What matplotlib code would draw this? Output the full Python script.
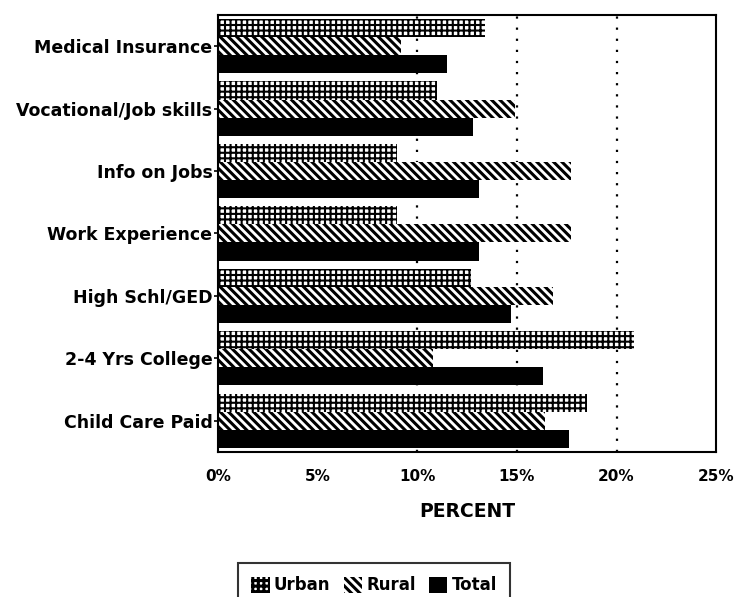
import numpy as np
import matplotlib.pyplot as plt

categories = ['Medical Insurance', 'Vocational/Job skills', 'Info on Jobs',
              'Work Experience', 'High Schl/GED', '2-4 Yrs College',
              'Child Care Paid']
urban = [13.4, 11.0, 9.0, 9.0, 12.7, 20.9, 18.5]
rural = [9.2, 14.9, 17.7, 17.7, 16.8, 10.8, 16.4]
total = [11.5, 12.8, 13.1, 13.1, 14.7, 16.3, 17.6]
xticks = [0, 5, 10, 15, 20, 25]

plt.rcParams['font.family'] = ['DejaVu Sans']
plt.rcParams['font.weight'] = 'bold'
plt.rcParams['hatch.linewidth'] = 2.2

fig = plt.figure(figsize=(7.48, 5.97), dpi=100)
ax = fig.add_axes([0.2914, 0.243, 0.666, 0.732])

# groups from top to bottom
y = np.arange(len(categories))
h = 0.29
b_urban = ax.barh(y - h, urban, height=h, color='white', edgecolor='black',
                  hatch='+++', linewidth=0, label='Urban')
ax.barh(y, rural, height=h, color='white', edgecolor='black',
        hatch='\\\\\\\\', linewidth=0, label='Rural')
ax.barh(y + h, total, height=h, color='black', edgecolor='black',
        linewidth=0, label='Total')
for p in b_urban:
    if hasattr(p, 'set_hatch_linewidth'):
        p.set_hatch_linewidth(1.5)

ax.set_ylim(len(categories) - 0.5, -0.5)
ax.set_xlim(0, 25)
ax.set_yticks(y)
ax.set_yticklabels(categories, fontsize=12.5, fontweight='bold')
ax.set_xticks(xticks)
ax.set_xticklabels(['%d%%' % t for t in xticks], fontsize=11, fontweight='bold')
ax.tick_params(axis='x', length=0, pad=12)
ax.tick_params(axis='y', length=3, width=1.2, pad=1)
ax.set_xlabel('PERCENT', fontsize=13.5, fontweight='bold', labelpad=13)

for gx in [10, 15, 20]:
    ax.axvline(gx, color='black', linestyle=(0, (1, 4)), linewidth=1.6, zorder=0)

for s in ax.spines.values():
    s.set_linewidth(1.5)

leg = fig.legend(loc='upper center', bbox_to_anchor=(0.5, 0.057), ncol=3,
                 prop={'size': 12, 'weight': 'bold'}, frameon=True,
                 fancybox=False, edgecolor='black',
                 handlelength=1.1, handleheight=1.1, handletextpad=0.25,
                 columnspacing=0.8, borderpad=0.8, borderaxespad=0)
leg.get_frame().set_linewidth(1.5)

fig.savefig('out.png', dpi=100)
